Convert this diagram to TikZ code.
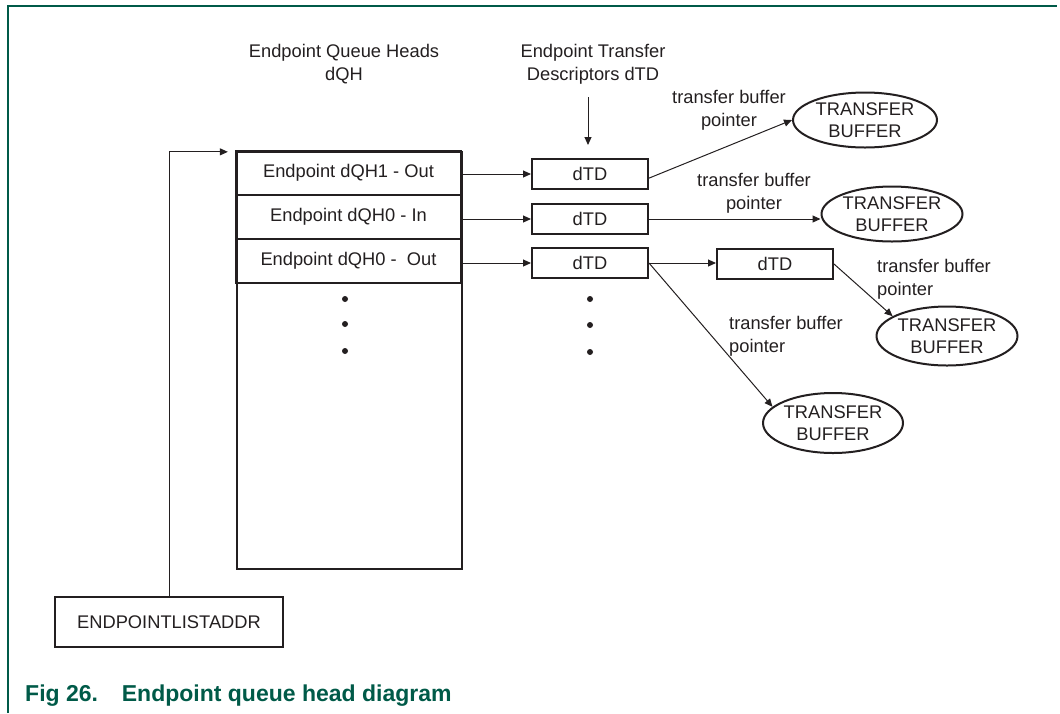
\documentclass[tikz,border=0pt]{standalone}
\usepackage{fontspec}
\setmainfont{Liberation Sans}
\usetikzlibrary{arrows.meta,shapes.geometric,calc}
\definecolor{txt}{RGB}{35,31,32}
\definecolor{nxpgreen}{RGB}{0,90,72}
\begin{document}
\begin{tikzpicture}[x=1pt,y=-1pt,
  every node/.style={font=\fontsize{18.3}{23}\selectfont, text=txt, inner sep=0pt},
  thick box/.style={draw=txt, line width=2.3pt},
  row/.style={thick box, minimum width=225pt, minimum height=44pt},
  dtd/.style={thick box, line width=2pt, minimum width=116pt, minimum height=30pt},
  buf/.style={ellipse, draw=txt, line width=2pt, align=center, font=\fontsize{18.3}{22}\selectfont},
  lab/.style={align=center},
  labl/.style={align=left, anchor=west},
  arr/.style={draw=txt, line width=1pt, -{Triangle[length=8pt,width=7pt]}},
  dot/.style={circle, fill=txt, minimum size=6pt}]
\useasboundingbox (0,0) rectangle (1060,713);
% frame
\draw[nxpgreen, line width=2pt] (8,713) -- (8,6) -- (1057,6);
% headers
\node[lab] (h1) at (344,64.5) {Endpoint Queue Heads\\dQH};
\node[lab] (h2) at (593,64.5) {Endpoint Transfer\\Descriptors dTD};
\coordinate (a1) at (588,97);
\coordinate (a2) at (588,145);
\draw[arr] (a1) -- (a2);
% queue head column
\node[thick box, minimum width=225pt, minimum height=417pt, anchor=north west] (dqh) at (236,151) {};
\node[row] (q1) at (348.5,173) {Endpoint dQH1 - Out};
\node[row] (q2) at (348.5,217) {Endpoint dQH0 - In};
\node[row] (q3) at (348.5,261) {Endpoint dQH0 -\ \ Out};
\node[dot] (p1) at (345,299) {};
\node[dot] (p2) at (345,324) {};
\node[dot] (p3) at (345,351) {};
% endpoint list address
\node[thick box, minimum width=228pt, minimum height=50pt] (epl) at (169,622) {ENDPOINTLISTADDR};
\draw[arr, shorten >=7pt] (epl.north) |- ([yshift=-2pt]q1.north west);
% dTDs
\node[dtd] (d1) at (590,174) {dTD};
\node[dtd] (d2) at (590,219) {dTD};
\node[dtd] (d3) at (590,263) {dTD};
\node[dtd] (d4) at (775,264) {dTD};
\node[dot] (t1) at (590,299) {};
\node[dot] (t2) at (590,325) {};
\node[dot] (t3) at (590,352) {};
\draw[arr] (q1.east |- d1.west) -- (d1.west);
\draw[arr] (q2.east |- d2.west) -- (d2.west);
\draw[arr] (q3.east |- d3.west) -- (d3.west);
% buffers
\node[buf, minimum width=144pt, minimum height=55pt] (e1) at (865,120) {TRANSFER\\BUFFER};
\node[buf, minimum width=141pt, minimum height=55pt] (e2) at (892,214) {TRANSFER\\BUFFER};
\node[buf, minimum width=141pt, minimum height=59pt] (e3) at (947,336) {TRANSFER\\BUFFER};
\node[buf, minimum width=140pt, minimum height=60pt] (e4) at (833,423) {TRANSFER\\BUFFER};
\draw[arr] (d1.-4) -- (e1.west);
\draw[arr] (d2.east) -- (d2.east -| e2.west);
\draw[arr] (d3.east) -- (d3.east -| d4.west);
\draw[arr] (d3.east) -- (e4.165);
\draw[arr] (d4.east) -- (e3.160);
% labels
\node[lab] (l1) at (729,110) {transfer buffer\\pointer};
\node[lab] (l2) at (754,193) {transfer buffer\\pointer};
\node[labl] (l3) at (877,279) {transfer buffer\\pointer};
\node[labl] (l4) at (729,336) {transfer buffer\\pointer};
% caption
\node[anchor=base west, text=nxpgreen, font=\fontsize{23}{27}\bfseries\selectfont] (cap1) at (25,701) {Fig 26.};
\node[anchor=base west, text=nxpgreen, font=\fontsize{23}{27}\bfseries\selectfont] (cap2) at (121.7,701) {Endpoint queue head diagram};
\end{tikzpicture}
\end{document}
